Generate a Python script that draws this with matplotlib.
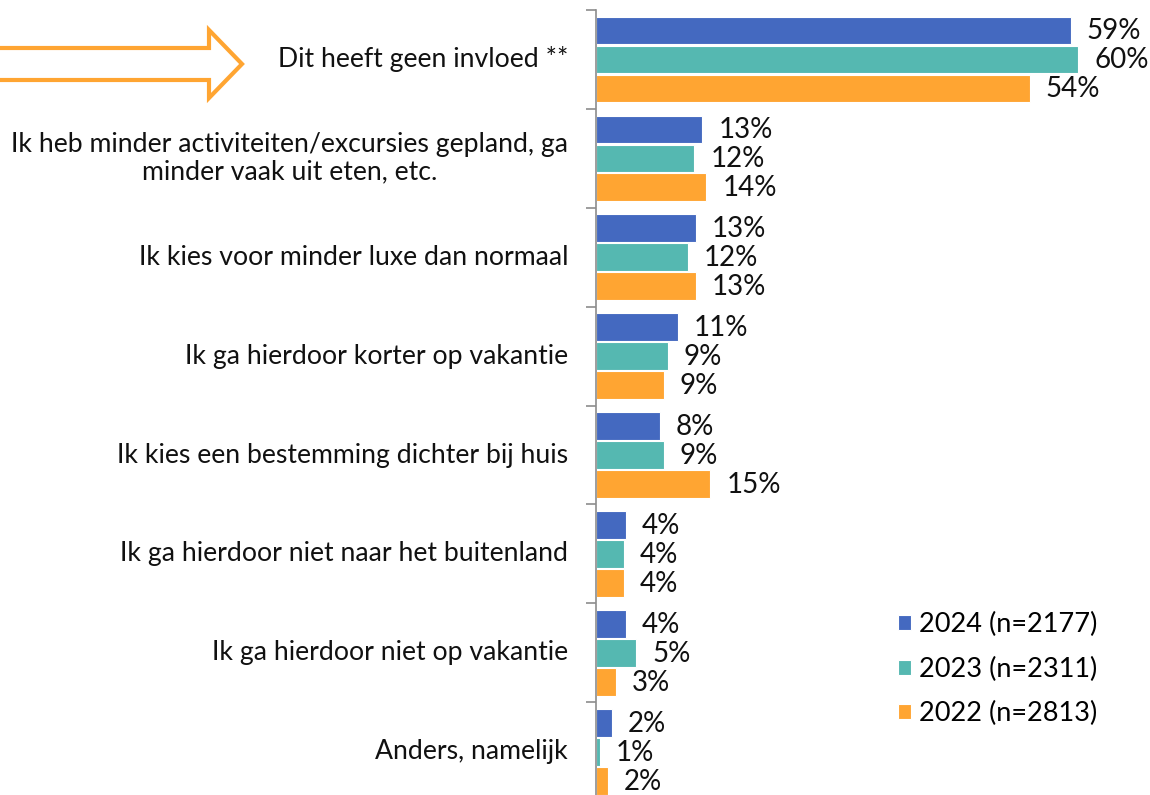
import matplotlib
matplotlib.use("Agg")
import matplotlib.pyplot as plt
from matplotlib.patches import Polygon
import numpy as np

categories = [
    "Dit heeft geen invloed **",
    "Ik heb minder activiteiten/excursies gepland, ga\nminder vaak uit eten, etc.",
    "Ik kies voor minder luxe dan normaal",
    "Ik ga hierdoor korter op vakantie",
    "Ik kies een bestemming dichter bij huis",
    "Ik ga hierdoor niet naar het buitenland",
    "Ik ga hierdoor niet op vakantie",
    "Anders, namelijk",
]
series_names = ["2024 (n=2177)", "2023 (n=2311)", "2022 (n=2813)"]
vals_2024 = [59.0, 13.2, 12.4, 10.2, 7.9, 3.7, 3.7, 2.0]
vals_2023 = [59.9, 12.2, 11.4, 8.9, 8.4, 3.5, 5.0, 0.5]
vals_2022 = [53.9, 13.7, 12.4, 8.4, 14.2, 3.5, 2.5, 1.5]
labels_2024 = ["59%", "13%", "13%", "11%", "8%", "4%", "4%", "2%"]
labels_2023 = ["60%", "12%", "12%", "9%", "9%", "4%", "5%", "1%"]
labels_2022 = ["54%", "14%", "13%", "9%", "15%", "4%", "3%", "2%"]

colors = ["#4469C0", "#55B8B1", "#FFA532"]
FONT = "Lato"
FS_CAT = 19.2
FS_VAL = 20.0
FS_LEG = 19.5

W, H = 1150, 795
fig = plt.figure(figsize=(W / 100, H / 100), dpi=100)
n = len(categories)
group_px = 98.9
ax_left, ax_right, ax_top = 596, 1150, 10
ax_bot = ax_top + n * group_px
ax = fig.add_axes([ax_left / W, 1 - ax_bot / H, (ax_right - ax_left) / W, (ax_bot - ax_top) / H])

y = np.arange(n)
step = 0.293
bh = 0.28
series = [(vals_2024, labels_2024), (vals_2023, labels_2023), (vals_2022, labels_2022)]
xmax = (ax_right - ax_left) / 8.05
for i, ((vals, labs), c, name) in enumerate(zip(series, colors, series_names)):
    pos = y + (i - 1) * step
    ax.barh(pos, vals, height=bh, color=c, edgecolor="white", linewidth=0.8, label=name)
    for p, v, l in zip(pos, vals, labs):
        ax.annotate(l, (v, p), xytext=(16, -1), textcoords="offset pixels",
                    va="center", ha="left", fontsize=FS_VAL, family=FONT, color="#111111")

ax.set_xlim(0, xmax)
ax.set_ylim(n - 0.5, -0.5)
for s in ["top", "right", "bottom"]:
    ax.spines[s].set_visible(False)
ax.spines["left"].set_color("#8C8C8C")
ax.spines["left"].set_linewidth(1.2)
ax.set_xticks([])
ax.set_yticks(np.arange(-0.5, n, 1.0))
ax.set_yticklabels([])
ax.tick_params(axis="y", length=7, width=1.2, color="#8C8C8C", direction="out")

for yi, cat in zip(y, categories):
    ax.text(-28 / 8.05, yi, cat, ha="right", va="center", fontsize=FS_CAT, family=FONT,
            color="#111111", multialignment="center", linespacing=1.12)

leg = ax.legend(loc="upper left",
                bbox_to_anchor=((898 - ax_left) / (ax_right - ax_left), 1 - (612 - ax_top) / (ax_bot - ax_top)),
                frameon=False, prop={"family": FONT, "size": FS_LEG}, handlelength=0.48, handleheight=0.48,
                handletextpad=0.3, labelspacing=0.72, borderaxespad=0, borderpad=0)

# outlined arrow on the left
def fx(px):
    return px / W
def fy(py):
    return 1 - py / H
pts = [(-10, 48), (209, 48), (209, 30), (242, 64), (209, 98), (209, 80), (-10, 80)]
arrow = Polygon([(fx(a), fy(b)) for a, b in pts], closed=True, transform=fig.transFigure,
                facecolor="white", edgecolor="#FFA532", linewidth=3, joinstyle="miter")
fig.patches.append(arrow)

fig.savefig("out.png", dpi=100)
